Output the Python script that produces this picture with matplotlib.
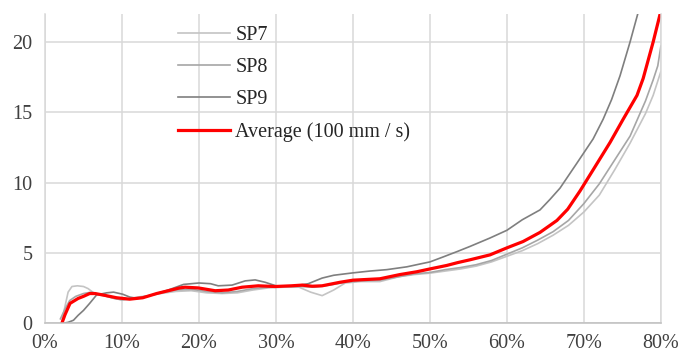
import matplotlib
matplotlib.use("Agg")
import matplotlib.pyplot as plt
from matplotlib.ticker import FuncFormatter

# strain (%) vs value
sp7_x = [2.2, 2.6, 3.0, 3.5, 4.2, 5.0, 5.6, 6.2, 7.0, 8.0, 9.0, 10.0, 11.0, 12.0, 13.5,
         15, 17, 19, 21, 23, 25, 27, 29, 31, 33, 34.5, 36, 37.5, 39, 41, 43.5, 46, 48,
         50, 52, 54, 56, 58, 60, 62, 64, 66, 68, 70, 72, 74, 76, 78, 79, 80]
sp7_y = [0.2, 1.2, 2.2, 2.6, 2.65, 2.6, 2.45, 2.2, 2.0, 1.9, 1.75, 1.65, 1.75, 1.85, 1.95,
         2.1, 2.25, 2.3, 2.15, 2.1, 2.15, 2.35, 2.5, 2.55, 2.55, 2.2, 1.95, 2.35, 2.85, 2.95,
         2.95, 3.3, 3.45, 3.55, 3.7, 3.85, 4.05, 4.35, 4.75, 5.15, 5.65, 6.25, 6.95, 7.9,
         9.1, 10.9, 12.8, 14.9, 16.2, 17.9]

sp8_x = [2.0, 2.6, 3.2, 4, 5, 6, 7, 8, 9, 10, 11, 12, 13.5, 15, 17, 19, 21, 23, 25, 27,
         29, 31, 33, 35, 37, 39, 41, 43.5, 46, 48, 50, 52, 54, 56, 58, 60, 62, 64, 66, 68,
         70, 72, 74, 76, 78, 79, 79.6, 80]
sp8_y = [0.3, 1.0, 1.6, 1.9, 2.1, 2.2, 2.05, 1.9, 1.75, 1.65, 1.7, 1.8, 1.95, 2.15, 2.35,
         2.4, 2.25, 2.15, 2.25, 2.45, 2.55, 2.6, 2.6, 2.55, 2.7, 2.9, 3.0, 3.05, 3.3, 3.5,
         3.6, 3.8, 3.95, 4.15, 4.45, 4.9, 5.35, 5.9, 6.5, 7.3, 8.5, 9.9, 11.6, 13.3, 15.8,
         17.3, 18.3, 19.7]

sp9_x = [2.5, 3.0, 3.7, 4.3, 5.0, 5.8, 6.7, 8.0, 8.9, 10.1, 11, 12, 13, 14.5, 16, 18, 20,
         21.5, 22.5, 24.3, 26, 27.3, 28.6, 30, 32.5, 34.2, 36, 37.5, 40, 42.2, 44.4, 47,
         48.7, 50, 51.7, 53.6, 55.2, 57.8, 60, 62, 64.3, 65.6, 66.9, 69, 71.2, 72.5, 73.6,
         74.7, 76, 77, 77.4]
sp9_y = [0.0, 0.05, 0.2, 0.55, 0.9, 1.4, 2.0, 2.15, 2.2, 2.05, 1.85, 1.75, 1.85, 2.1,
         2.35, 2.75, 2.85, 2.8, 2.65, 2.7, 3.0, 3.07, 2.9, 2.65, 2.65, 2.8, 3.2, 3.4, 3.57,
         3.7, 3.8, 4.0, 4.2, 4.35, 4.7, 5.1, 5.45, 6.05, 6.6, 7.35, 8.05, 8.8, 9.6, 11.3,
         13.1, 14.5, 15.9, 17.6, 20.0, 22.0, 22.8]

avg_x = [2.2, 2.6, 3.25, 4.3, 5.0, 5.8, 6.5, 7.5, 9.3, 11, 12.7, 14.5, 16, 17.5, 18.2,
         19.9, 22.1, 23.8, 25.6, 27.7, 29.9, 32, 33.4, 34.7, 36, 38.3, 40, 43.5, 46.1,
         48.3, 50, 52.2, 53.6, 55.2, 57.8, 60, 62.1, 64.3, 66.5, 67.9, 69.5, 71.2, 73.4,
         75.1, 76.9, 77.7, 79, 80]
avg_y = [0.0, 0.6, 1.4, 1.75, 1.9, 2.1, 2.1, 2.0, 1.8, 1.7, 1.8, 2.1, 2.3, 2.5, 2.55,
         2.5, 2.3, 2.35, 2.55, 2.65, 2.6, 2.65, 2.7, 2.62, 2.65, 2.9, 3.05, 3.15, 3.45,
         3.65, 3.85, 4.1, 4.3, 4.5, 4.85, 5.35, 5.8, 6.45, 7.3, 8.1, 9.4, 10.9, 12.85,
         14.5, 16.2, 17.4, 20.0, 22.2]

x_ticks = [0, 10, 20, 30, 40, 50, 60, 70, 80]
y_ticks = [0, 5, 10, 15, 20]

plt.rcParams['font.family'] = ['Liberation Serif', 'DejaVu Serif']

fig = plt.figure(figsize=(6.82, 3.55), dpi=100)
ax = fig.add_axes([0.066, 0.090, 0.903, 0.871])

ax.plot(sp7_x, sp7_y, color='#c4c4c4', lw=1.2, label='SP7')
ax.plot(sp8_x, sp8_y, color='#a6a6a6', lw=1.2, label='SP8')
ax.plot(sp9_x, sp9_y, color='#7f7f7f', lw=1.2, label='SP9')
ax.plot(avg_x, avg_y, color='#ff0000', lw=2.3, label='Average (100 mm / s)')

ax.set_xlim(0, 80)
ax.set_ylim(0, 22)
ax.set_xticks(x_ticks)
ax.set_yticks(y_ticks)
ax.xaxis.set_major_formatter(FuncFormatter(lambda v, p: '%d%%' % v))
ax.grid(True, color='#d9d9d9', lw=1.1)
ax.set_axisbelow(True)
ax.spines['top'].set_visible(False)
for s in ['left', 'right']:
    ax.spines[s].set_color('#d9d9d9')
    ax.spines[s].set_linewidth(1.1)
ax.spines['bottom'].set_color('#bfbfbf')
ax.spines['bottom'].set_linewidth(1.1)
ax.tick_params(length=0, labelsize=14.5, colors='#404040')
ax.tick_params(axis='x', pad=8)
ax.tick_params(axis='y', pad=9)

leg = ax.legend(loc='upper left', bbox_to_anchor=(0.216, 0.962), frameon=False,
                fontsize=14.5, handlelength=2.6, handletextpad=0.25,
                labelspacing=0.65, borderaxespad=0, borderpad=0)
for t in leg.get_texts():
    t.set_color('#262626')

fig.savefig('out.png', dpi=100)
